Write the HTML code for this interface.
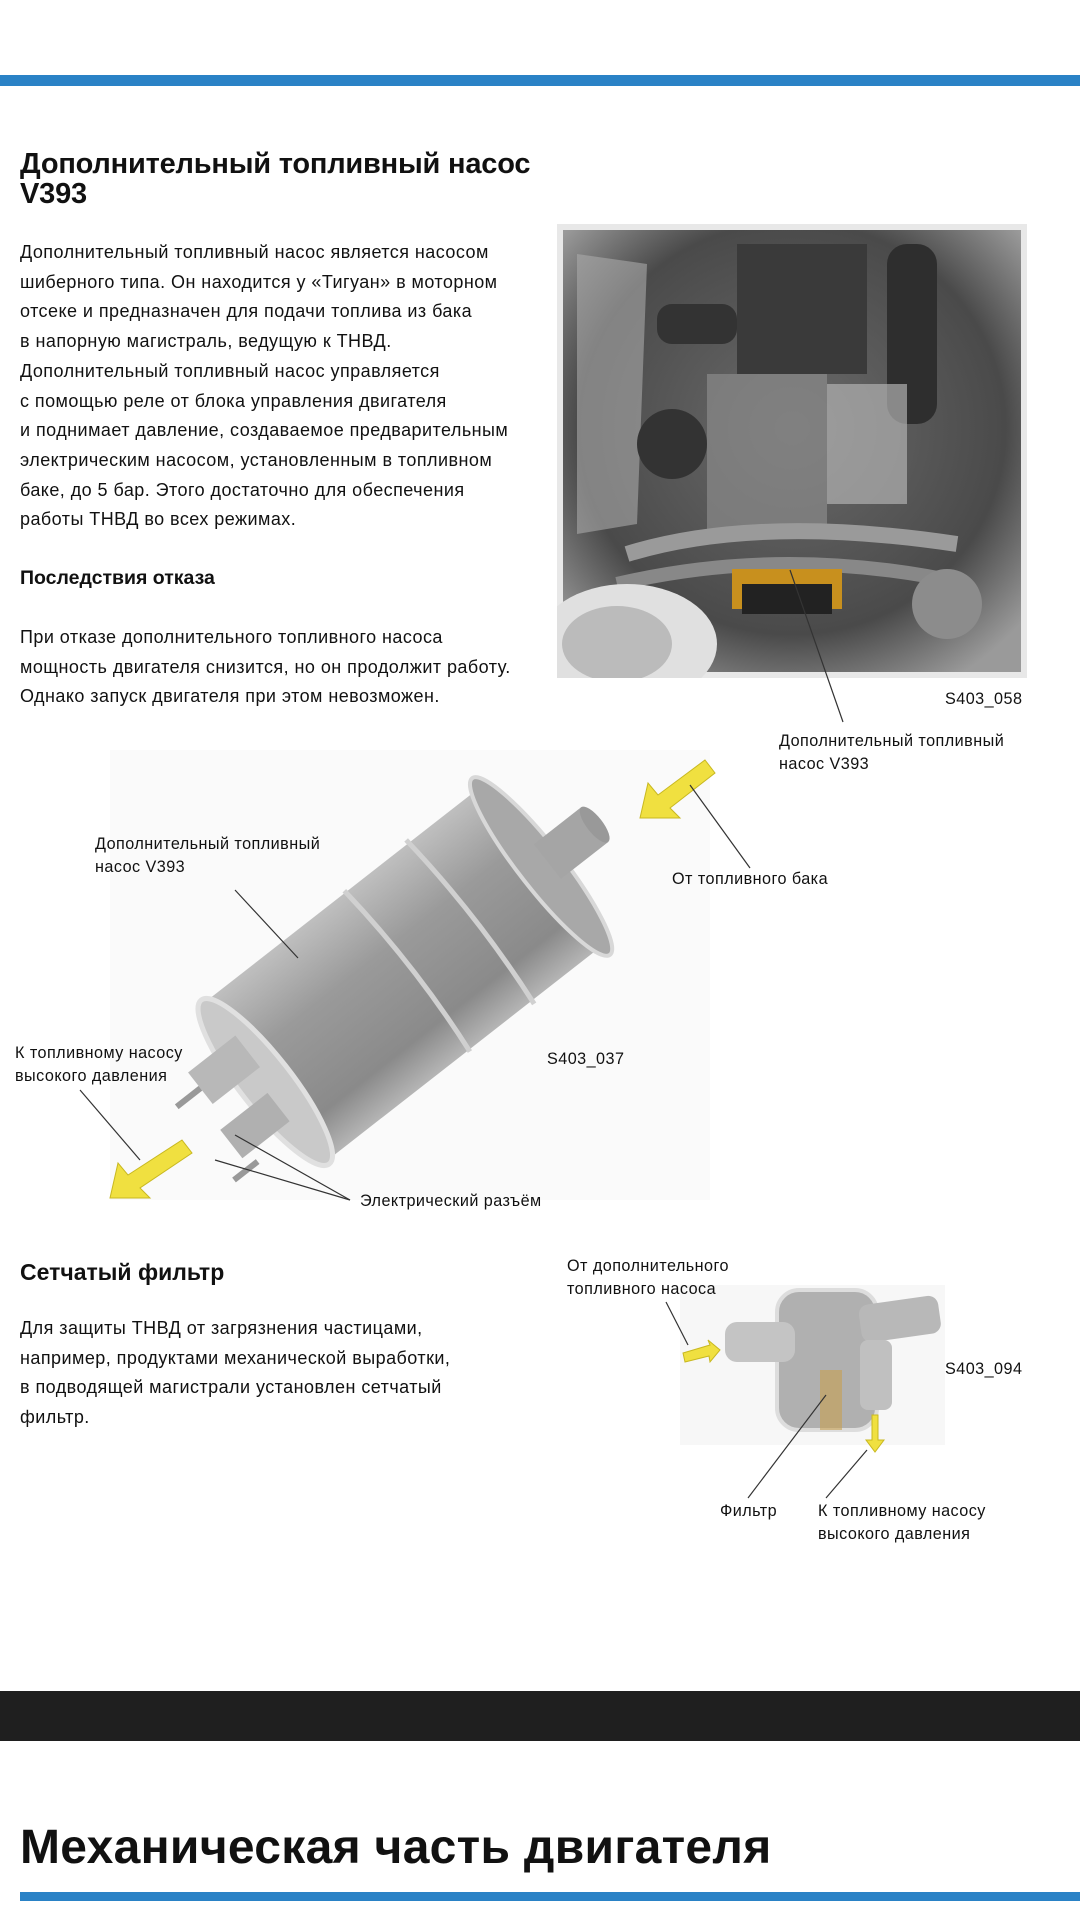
<!DOCTYPE html>
<html><head><meta charset="utf-8"><style>
*{margin:0;padding:0}
body{width:1080px;height:1920px;background:#fff;position:relative;overflow:hidden;font-family:"Liberation Sans","Noto Sans CJK SC",sans-serif;color:#111}
.t{position:absolute;white-space:nowrap}
.p{font-size:18px;line-height:29.7px;letter-spacing:0.45px}
.l{font-size:16.2px;line-height:23px;letter-spacing:0.45px}
.b{font-weight:bold}
</style></head><body>
<div style="position:absolute;left:0;top:75px;width:1080px;height:11px;background:#2a82c6"></div>

<div class="t b" style="left:20px;top:149px;font-size:29px;line-height:30px;letter-spacing:-0.2px">Дополнительный топливный насос<br>V393</div>

<div class="t p" style="left:20px;top:238px">Дополнительный топливный насос является насосом<br>шиберного типа. Он находится у «Тигуан» в моторном<br>отсеке и предназначен для подачи топлива из бака<br>в напорную магистраль, ведущую к ТНВД.<br>Дополнительный топливный насос управляется<br>с помощью реле от блока управления двигателя<br>и поднимает давление, создаваемое предварительным<br>электрическим насосом, установленным в топливном<br>баке, до 5 бар. Этого достаточно для обеспечения<br>работы ТНВД во всех режимах.</div>

<div class="t b" style="left:20px;top:566px;font-size:19.5px;line-height:24px">Последствия отказа</div>
<div class="t p" style="left:20px;top:623px">При отказе дополнительного топливного насоса<br>мощность двигателя снизится, но он продолжит работу.<br>Однако запуск двигателя при этом невозможен.</div>

<!-- engine photo -->
<svg style="position:absolute;left:557px;top:224px" width="470" height="454">
<defs><radialGradient id="eg" cx="50%" cy="45%" r="65%"><stop offset="0" stop-color="#6a6a6a"/><stop offset="0.7" stop-color="#4a4a4a"/><stop offset="1" stop-color="#9a9a9a"/></radialGradient></defs>
<rect width="470" height="454" fill="url(#eg)"/>
<rect x="0" y="0" width="470" height="454" fill="none" stroke="#e8e8e8" stroke-width="12"/>
<path d="M20 30 L90 40 L80 300 L20 310Z" fill="#aaa" opacity="0.6"/>
<rect x="180" y="20" width="130" height="130" fill="#3a3a3a"/>
<rect x="330" y="20" width="50" height="180" rx="20" fill="#2e2e2e"/>
<rect x="100" y="80" width="80" height="40" rx="15" fill="#333"/>
<rect x="150" y="150" width="120" height="160" fill="#8a8a8a" opacity="0.7"/>
<rect x="270" y="160" width="80" height="120" fill="#b0b0b0" opacity="0.7"/>
<circle cx="115" cy="220" r="35" fill="#333"/>
<path d="M70 330 Q200 290 400 320" stroke="#9a9a9a" stroke-width="16" fill="none"/>
<path d="M60 360 Q230 320 410 360" stroke="#888" stroke-width="14" fill="none"/>
<rect x="175" y="345" width="110" height="40" fill="#c8901e"/>
<rect x="185" y="360" width="90" height="30" fill="#222"/>
<ellipse cx="70" cy="420" rx="90" ry="60" fill="#e0e0e0"/>
<ellipse cx="60" cy="420" rx="55" ry="38" fill="#bbb"/>
<circle cx="390" cy="380" r="35" fill="#8c8c8c"/>
</svg>
<div class="t l" style="left:945px;top:688px">S403_058</div>
<svg style="position:absolute;left:0;top:0;pointer-events:none" width="1080" height="1920">
<line x1="790" y1="570" x2="843" y2="722" stroke="#333" stroke-width="1.2"/>
</svg>
<div class="t l" style="left:779px;top:730px">Дополнительный топливный<br>насос V393</div>

<!-- pump -->
<svg style="position:absolute;left:0;top:0" width="1080" height="1920">
<defs>
<linearGradient id="pg" x1="0" y1="0" x2="0" y2="1"><stop offset="0" stop-color="#bfbfbf"/><stop offset="0.35" stop-color="#9a9a9a"/><stop offset="0.8" stop-color="#8a8a8a"/><stop offset="1" stop-color="#b5b5b5"/></linearGradient>
</defs>
<rect x="110" y="750" width="600" height="450" fill="#fafafa"/>
<g transform="translate(415,965) rotate(-38)">
<rect x="-190" y="-100" width="350" height="200" fill="url(#pg)"/>
<ellipse cx="160" cy="0" rx="22" ry="112" fill="#a8a8a8" stroke="#d8d8d8" stroke-width="4"/>
<rect x="168" y="-22" width="60" height="44" fill="#a5a5a5"/>
<ellipse cx="228" cy="0" rx="8" ry="22" fill="#999"/>
<path d="M70 -104 Q80 0 70 104" stroke="#d0d0d0" stroke-width="5" fill="none"/>
<path d="M-10 -102 Q0 0 -10 102" stroke="#d0d0d0" stroke-width="5" fill="none"/>
<ellipse cx="-190" cy="0" rx="26" ry="104" fill="#c9c9c9" stroke="#e0e0e0" stroke-width="5"/>
<rect x="-245" y="-55" width="60" height="40" fill="#b8b8b8"/>
<rect x="-255" y="10" width="60" height="36" fill="#b0b0b0"/>
<rect x="-275" y="-38" width="30" height="6" fill="#999"/>
<rect x="-275" y="55" width="30" height="6" fill="#999"/>
</g>
<polygon points="705,760 715,773 670,808 680,818 640,818 648,783 658,795" fill="#f0e040" stroke="#c8b820"/>
<polygon points="182,1140 192,1153 140,1188 150,1198 110,1198 118,1163 128,1175" fill="#f0e040" stroke="#c8b820"/>
<line x1="690" y1="785" x2="750" y2="868" stroke="#333" stroke-width="1.2"/>
<line x1="235" y1="890" x2="298" y2="958" stroke="#333" stroke-width="1.2"/>
<line x1="80" y1="1090" x2="140" y2="1160" stroke="#333" stroke-width="1.2"/>
<line x1="235" y1="1135" x2="350" y2="1200" stroke="#333" stroke-width="1.2"/>
<line x1="215" y1="1160" x2="350" y2="1200" stroke="#333" stroke-width="1.2"/>
</svg>
<div class="t l" style="left:95px;top:833px">Дополнительный топливный<br>насос V393</div>
<div class="t l" style="left:672px;top:868px">От топливного бака</div>
<div class="t l" style="left:547px;top:1048px">S403_037</div>
<div class="t l" style="left:15px;top:1042px">К топливному насосу<br>высокого давления</div>
<div class="t l" style="left:360px;top:1190px">Электрический разъём</div>

<div class="t b" style="left:20px;top:1259px;font-size:23px;line-height:26px">Сетчатый фильтр</div>
<div class="t p" style="left:20px;top:1314px">Для защиты ТНВД от загрязнения частицами,<br>например, продуктами механической выработки,<br>в подводящей магистрали установлен сетчатый<br>фильтр.</div>

<!-- filter -->
<svg style="position:absolute;left:0;top:0" width="1080" height="1920">
<rect x="680" y="1285" width="265" height="160" fill="#f7f7f7"/>
<rect x="777" y="1290" width="100" height="140" rx="22" fill="#b0b0b0" stroke="#ddd" stroke-width="4"/>
<rect x="725" y="1322" width="70" height="40" rx="12" fill="#c4c4c4"/>
<rect x="860" y="1300" width="80" height="38" rx="10" fill="#b8b8b8" transform="rotate(-8 900 1320)"/>
<rect x="860" y="1340" width="32" height="70" rx="8" fill="#c0c0c0"/>
<rect x="820" y="1370" width="22" height="60" fill="#c8a050" opacity="0.6"/>
<polygon points="683,1353 710,1345 708,1340 720,1350 710,1362 709,1356 685,1362" fill="#f0e040" stroke="#c8b820"/>
<polygon points="872,1415 878,1415 878,1440 884,1440 875,1452 866,1440 872,1440" fill="#f0e040" stroke="#c8b820"/>
<line x1="666" y1="1302" x2="688" y2="1345" stroke="#333" stroke-width="1.2"/>
<line x1="748" y1="1498" x2="826" y2="1395" stroke="#333" stroke-width="1.2"/>
<line x1="826" y1="1498" x2="867" y2="1450" stroke="#333" stroke-width="1.2"/>
</svg>
<div class="t l" style="left:567px;top:1255px">От дополнительного<br>топливного насоса</div>
<div class="t l" style="left:945px;top:1358px">S403_094</div>
<div class="t l" style="left:720px;top:1500px">Фильтр</div>
<div class="t l" style="left:818px;top:1500px">К топливному насосу<br>высокого давления</div>

<div style="position:absolute;left:0;top:1691px;width:1080px;height:50px;background:#1f1f1f"></div>
<div class="t b" style="left:20px;top:1820px;font-size:48px;line-height:56px;letter-spacing:0.3px">Механическая часть двигателя</div>
<div style="position:absolute;left:20px;top:1892px;width:1060px;height:9px;background:#2a82c6"></div>
</body></html>
